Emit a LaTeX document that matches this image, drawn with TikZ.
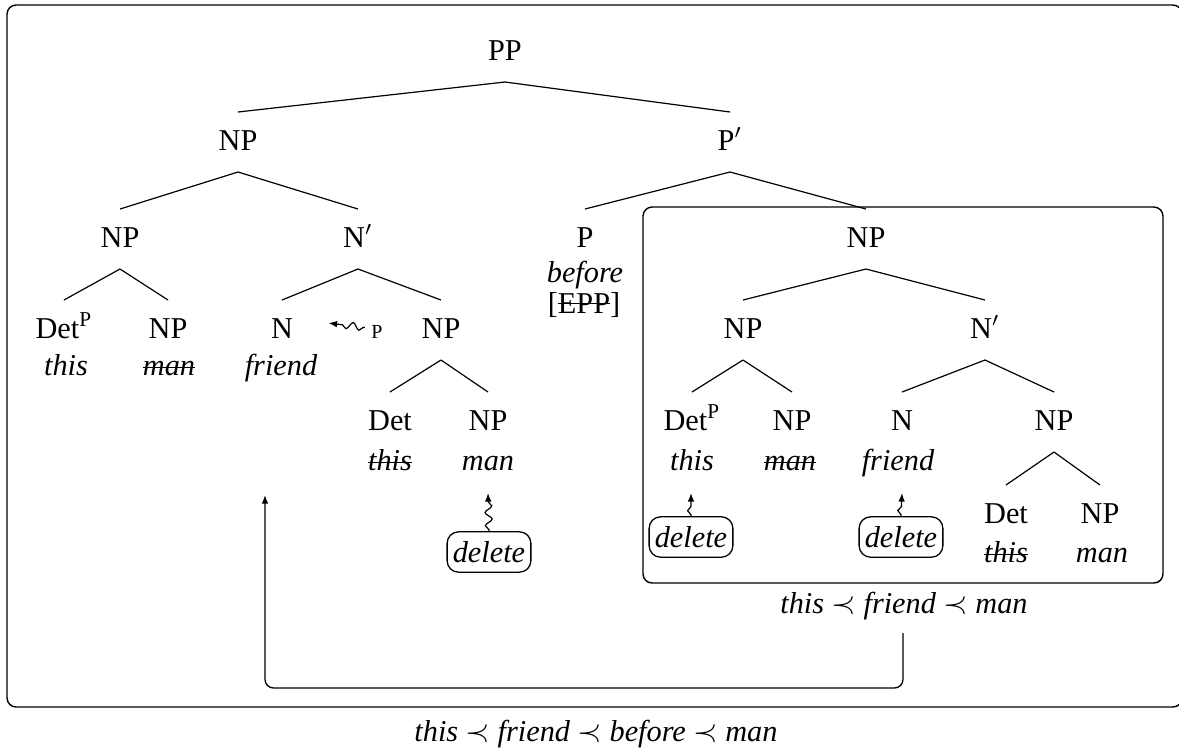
\documentclass[tikz,border=0pt]{standalone}
\usepackage{fontspec}
\setmainfont{Liberation Serif}
\usetikzlibrary{calc,arrows.meta,decorations.pathmorphing}

\newcommand\treefont{\fontsize{10.6}{12}\selectfont}
\newcommand\smallfont{\fontsize{7}{8}\selectfont}
% struck-through text: a rule laid across the word at the given height
\newcommand\struckat[2]{{\setbox0\hbox{#2}\rlap{\rule[#1]{\wd0}{0.4pt}}\box0}}
\newcommand\struck[1]{\struckat{0.24em}{#1}}
% a branch runs from below the mother label to above the daughter label
\newcommand\treebranch[2]{\draw[branch] ($(#1.base)+(0,22)$) -- ($(#2.base)+(0,-38)$);}

\tikzset{
  cat/.style={anchor=base, inner sep=0pt, font=\treefont},
  word/.style={anchor=base, inner sep=0pt, font=\treefont\itshape},
  branch/.style={line width=0.42pt},
  frame/.style={line width=0.5pt, rounded corners=3.2pt},
  delbox/.style={draw, line width=0.45pt, rounded corners=4pt, inner xsep=2pt,
                 minimum height=13.6pt, minimum width=28pt, font=\treefont\itshape},
  tip/.style={-{Latex[length=3pt,width=2.3pt]}},
  wavy/.style={tip, line width=0.42pt, decorate,
               decoration={snake, amplitude=1.2pt, segment length=4.6pt,
                           pre length=0.5pt, post length=3pt}},
}

\begin{document}
\begin{tikzpicture}[x=0.35pt, y=-0.35pt]
\useasboundingbox (0,0) rectangle (1179,749);

% outer frame and the boxed constituent
\draw[frame] (7,5) rectangle (1182,707);
\draw[frame] (643,207) rectangle (1163,583);

% top of the tree
\node[cat] (PP)   at (505,60)  {PP};
\node[cat] (NPa)  at (238,150) {NP};
\node[cat] (Pbar) at (730,150) {P$'$};
\node[cat] (NPb)  at (120,247) {NP};
\node[cat] (Nbar) at (358,247) {N$'$};
\node[cat] (P)    at (585,247) {P};
\node[word] (before) at (585,282) {before};
\node[cat] (epp)  at (584,313) {[\struckat{0.3em}{EPP}]};
\node[cat] (NPbox) at (866,247) {NP};

% left subject NP
\node[cat] (DetP1) at (64,338)  {Det\textsuperscript{P}};
\node[word] (this1) at (66,375) {this};
\node[cat] (NPc)   at (168,338) {NP};
\node[word] (man1) at (169,375) {\struck{man}};
\node[cat] (N1)    at (282,338) {N};
\node[word] (friend1) at (281,375) {friend};
\node[cat] (NPd)   at (441,338) {NP};
\node[cat,font=\smallfont] (plab) at (377,338) {P};
\node[cat] (Det2)  at (390,430) {Det};
\node[word] (this2) at (390,470) {\struck{this}};
\node[cat] (NPe)   at (488,430) {NP};
\node[word] (man2) at (488,470) {man};

% boxed NP
\node[cat] (NPf)   at (743,338) {NP};
\node[cat] (Nbar2) at (985,338) {N$'$};
\node[cat] (DetP3) at (692,430) {Det\textsuperscript{P}};
\node[word] (this3) at (692,470) {this};
\node[cat] (NPg)   at (792,430) {NP};
\node[word] (man3) at (790,470) {\struck{man}};
\node[cat] (N3)    at (902,430) {N};
\node[word] (friend3) at (898,470) {friend};
\node[cat] (NPh)   at (1054,430) {NP};
\node[cat] (Det4)  at (1006,523) {Det};
\node[word] (this4) at (1006,562) {\struck{this}};
\node[cat] (NPi)   at (1100,523) {NP};
\node[word] (man4) at (1102,562) {man};

% branches
\treebranch{PP}{NPa}   \treebranch{PP}{Pbar}
\treebranch{NPa}{NPb}  \treebranch{NPa}{Nbar}
\treebranch{Pbar}{P}   \treebranch{Pbar}{NPbox}
\treebranch{NPb}{DetP1} \treebranch{NPb}{NPc}
\treebranch{Nbar}{N1}  \treebranch{Nbar}{NPd}
\treebranch{NPd}{Det2} \treebranch{NPd}{NPe}
\treebranch{NPbox}{NPf} \treebranch{NPbox}{Nbar2}
\treebranch{NPf}{DetP3} \treebranch{NPf}{NPg}
\treebranch{Nbar2}{N3} \treebranch{Nbar2}{NPh}
\treebranch{NPh}{Det4} \treebranch{NPh}{NPi}

% deletion operations
\node[delbox] (del1) at (489,552) {delete};
\node[delbox] (del2) at (691,537) {delete};
\node[delbox] (del3) at (901,537) {delete};
\draw[wavy] (del1.north) -- ($(man2.base)+(0,23)$);
\draw[wavy] (del2.north) -- ($(this3.base)+(-1,23)$);
\draw[wavy] (del3.north) -- ($(friend3.base)+(4,23)$);
\draw[wavy] ($(plab.west)+(-6,-4)$) -- ($(N1.east)+(35,-5)$);

% linearisations
\node[cat] (cap) at (904,613) {\textit{this} $\prec$ \textit{friend} $\prec$ \textit{man}};
\node[cat] (lin) at (596,741) {\textit{this} $\prec$ \textit{friend} $\prec$ \textit{before} $\prec$ \textit{man}};

% movement of the linearised NP
\coordinate (tgt) at (265,495);
\coordinate (low) at (265,688);
\draw[tip, line width=0.45pt, rounded corners=3pt]
  ($(cap.base)+(-1,20)$) |- (low) -- (tgt);
\end{tikzpicture}
\end{document}
